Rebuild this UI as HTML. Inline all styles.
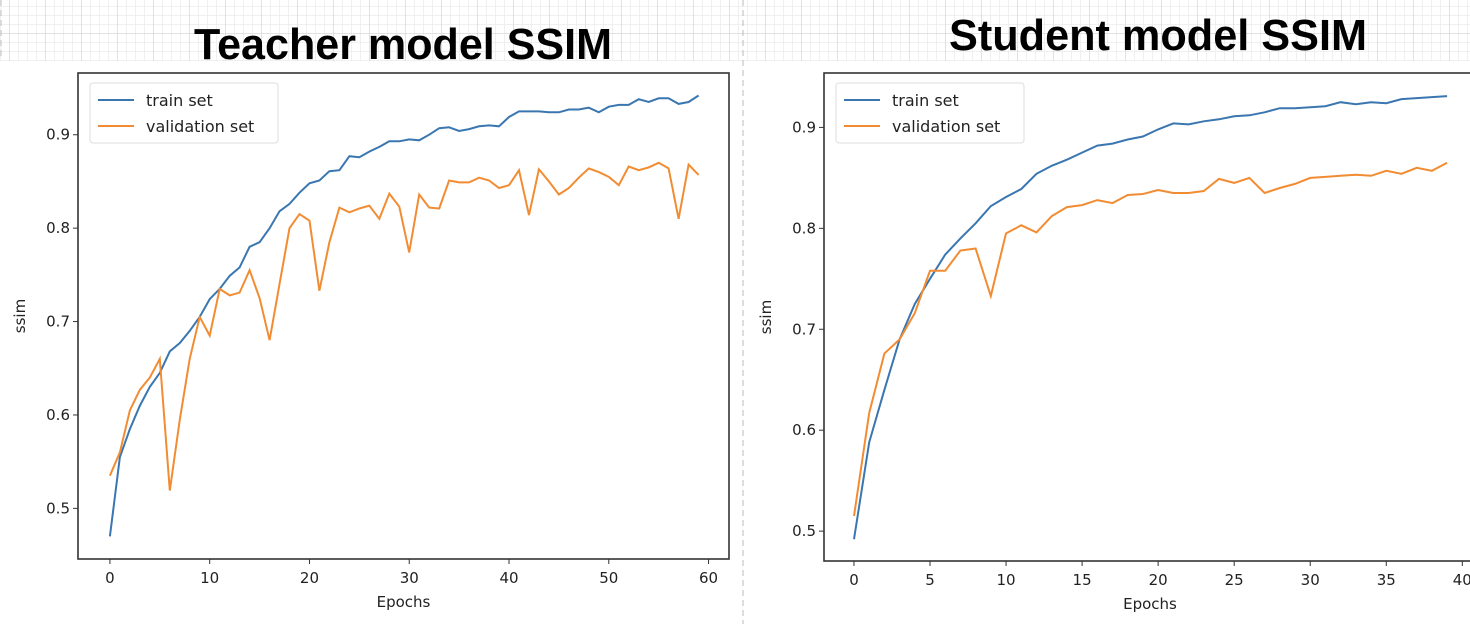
<!DOCTYPE html>
<html><head><meta charset="utf-8"><style>
html,body{margin:0;padding:0;background:#fff;}
svg{display:block;font-family:"DejaVu Sans","Liberation Sans",sans-serif;}
</style></head><body>
<svg id="svg" width="1470" height="624" viewBox="0 0 1470 624">
<defs>
<pattern id="minor" width="9" height="9" patternUnits="userSpaceOnUse"><path d="M9 0V9M0 9H9" stroke="#ececec" stroke-width="1.5" fill="none"/></pattern>
<pattern id="major" width="36" height="36" patternUnits="userSpaceOnUse" x="10" y="-2"><rect width="36" height="36" fill="url(#minor)"/><path d="M36 0V36M0 36H36" stroke="#cfcfcf" stroke-width="1" fill="none"/></pattern>
</defs>
<rect x="0" y="0" width="1470" height="61" fill="url(#major)"/>
<line x1="743" y1="0" x2="743" y2="624" stroke="#bbb" stroke-dasharray="6,4"/>
<line x1="1" y1="0" x2="1" y2="60" stroke="#bbb" stroke-dasharray="6,4"/>
<text x="403" y="59" font-family="Liberation Sans, sans-serif" font-weight="bold" font-size="44" text-anchor="middle" textLength="418" lengthAdjust="spacingAndGlyphs">Teacher model SSIM</text>
<text x="1158" y="50" font-family="Liberation Sans, sans-serif" font-weight="bold" font-size="44" text-anchor="middle" textLength="418" lengthAdjust="spacingAndGlyphs">Student model SSIM</text>
<g id="left"></g><g id="right"></g>
</svg>
<script>
const teacherEpochs = Array.from({length:60},(_, i)=>i);
const teacherTrain = [0.47,0.555,0.585,0.61,0.63,0.645,0.668,0.677,0.69,0.705,0.724,0.735,0.749,0.758,0.78,0.785,0.80,0.818,0.826,0.838,0.848,0.851,0.861,0.862,0.877,0.876,0.882,0.887,0.893,0.893,0.895,0.894,0.9,0.907,0.908,0.904,0.906,0.909,0.91,0.909,0.919,0.925,0.925,0.925,0.924,0.924,0.927,0.927,0.929,0.924,0.930,0.932,0.932,0.938,0.935,0.939,0.939,0.933,0.935,0.942];
const teacherVal = [0.535,0.56,0.605,0.627,0.64,0.66,0.519,0.595,0.66,0.705,0.685,0.735,0.728,0.731,0.755,0.725,0.68,0.74,0.8,0.815,0.808,0.733,0.785,0.822,0.817,0.821,0.824,0.81,0.837,0.823,0.774,0.836,0.822,0.821,0.851,0.849,0.849,0.854,0.851,0.843,0.846,0.862,0.814,0.863,0.85,0.836,0.843,0.854,0.864,0.86,0.855,0.846,0.866,0.862,0.865,0.87,0.864,0.81,0.868,0.857];
const studentEpochs = Array.from({length:40},(_, i)=>i);
const studentTrain = [0.492,0.588,0.64,0.69,0.725,0.75,0.774,0.79,0.805,0.822,0.831,0.839,0.854,0.862,0.868,0.875,0.882,0.884,0.888,0.891,0.898,0.904,0.903,0.906,0.908,0.911,0.912,0.915,0.919,0.919,0.92,0.921,0.925,0.923,0.925,0.924,0.928,0.929,0.930,0.931];
const studentVal = [0.515,0.617,0.676,0.69,0.716,0.758,0.758,0.778,0.78,0.733,0.795,0.803,0.796,0.812,0.821,0.823,0.828,0.825,0.833,0.834,0.838,0.835,0.835,0.837,0.849,0.845,0.85,0.835,0.84,0.844,0.85,0.851,0.852,0.853,0.852,0.857,0.854,0.86,0.857,0.865];
const teacherXTicks = [0,10,20,30,40,50,60];
const studentXTicks = [0,5,10,15,20,25,30,35,40];
const yTicks = [0.5,0.6,0.7,0.8,0.9];
const NS="http://www.w3.org/2000/svg";
function mk(tag,attrs,parent,txt){const e=document.createElementNS(NS,tag);for(const k in attrs)e.setAttribute(k,attrs[k]);if(txt!==undefined)e.textContent=txt;parent.appendChild(e);return e;}
function drawPanel(g,box,xd,yd,xTicks,epochs,train,val,prefix){
  const sx=v=>box.l+(v-xd[0])/(xd[1]-xd[0])*(box.r-box.l);
  const sy=v=>box.b-(v-yd[0])/(yd[1]-yd[0])*(box.b-box.t);
  const frame=mk('rect',{x:box.l,y:box.t,width:box.r-box.l,height:box.b-box.t,fill:'none',stroke:'#333','stroke-width':1.6},g);
  
  
  xTicks.forEach(t=>{const x=sx(t);
    mk('line',{x1:x,y1:box.b,x2:x,y2:box.b+5,stroke:'#333'},g);
    const lb=mk('text',{x:x,y:box.b+24,'font-size':15,'text-anchor':'middle',fill:'#222'},g,String(t));
    
    });
  yTicks.forEach(t=>{const y=sy(t);
    mk('line',{x1:box.l-5,y1:y,x2:box.l,y2:y,stroke:'#333'},g);
    const lb=mk('text',{x:box.l-8,y:y+5,'font-size':15,'text-anchor':'end',fill:'#222'},g,t.toFixed(1));
    
    });
  const xl=mk('text',{x:(box.l+box.r)/2,y:box.b+48,'font-size':15,'text-anchor':'middle',fill:'#222'},g,'Epochs');
  
  
  const yl=mk('text',{x:0,y:0,'font-size':15,'text-anchor':'middle',fill:'#222',transform:`translate(${box.l-53},${(box.t+box.b)/2}) rotate(-90)`},g,'ssim');
  
  
  const pts=a=>a.map((v,i)=>sx(epochs[i]).toFixed(1)+','+sy(v).toFixed(1)).join(' ');
  const lt=mk('polyline',{points:pts(train),fill:'none',stroke:'#3a76b0','stroke-width':2},g);
  
  
  const lv=mk('polyline',{points:pts(val),fill:'none',stroke:'#f28c32','stroke-width':2},g);
  
  
  const lg=mk('g',{},g);
  
  
  const lx=box.l+12, ly=box.t+10;
  mk('rect',{x:lx,y:ly,width:188,height:60,rx:3,fill:'#fff',stroke:'#ddd'},lg);
  mk('line',{x1:lx+8,y1:ly+17,x2:lx+44,y2:ly+17,stroke:'#3a76b0','stroke-width':2},lg);
  mk('line',{x1:lx+8,y1:ly+43,x2:lx+44,y2:ly+43,stroke:'#f28c32','stroke-width':2},lg);
  const e1=mk('text',{x:lx+56,y:ly+23,'font-size':16,fill:'#222'},lg,'train set');
  
  
  const e2=mk('text',{x:lx+56,y:ly+49,'font-size':16,fill:'#222'},lg,'validation set');
  
  
}
drawPanel(document.getElementById('left'),{l:78,r:729,t:73,b:559},[-3.2,62.05],[0.4458,0.9661],teacherXTicks,teacherEpochs,teacherTrain,teacherVal,'teacher');
drawPanel(document.getElementById('right'),{l:824,r:1476,t:73,b:561},[-1.97,40.9],[0.4704,0.9539],studentXTicks,studentEpochs,studentTrain,studentVal,'student');
</script>
</body></html>
